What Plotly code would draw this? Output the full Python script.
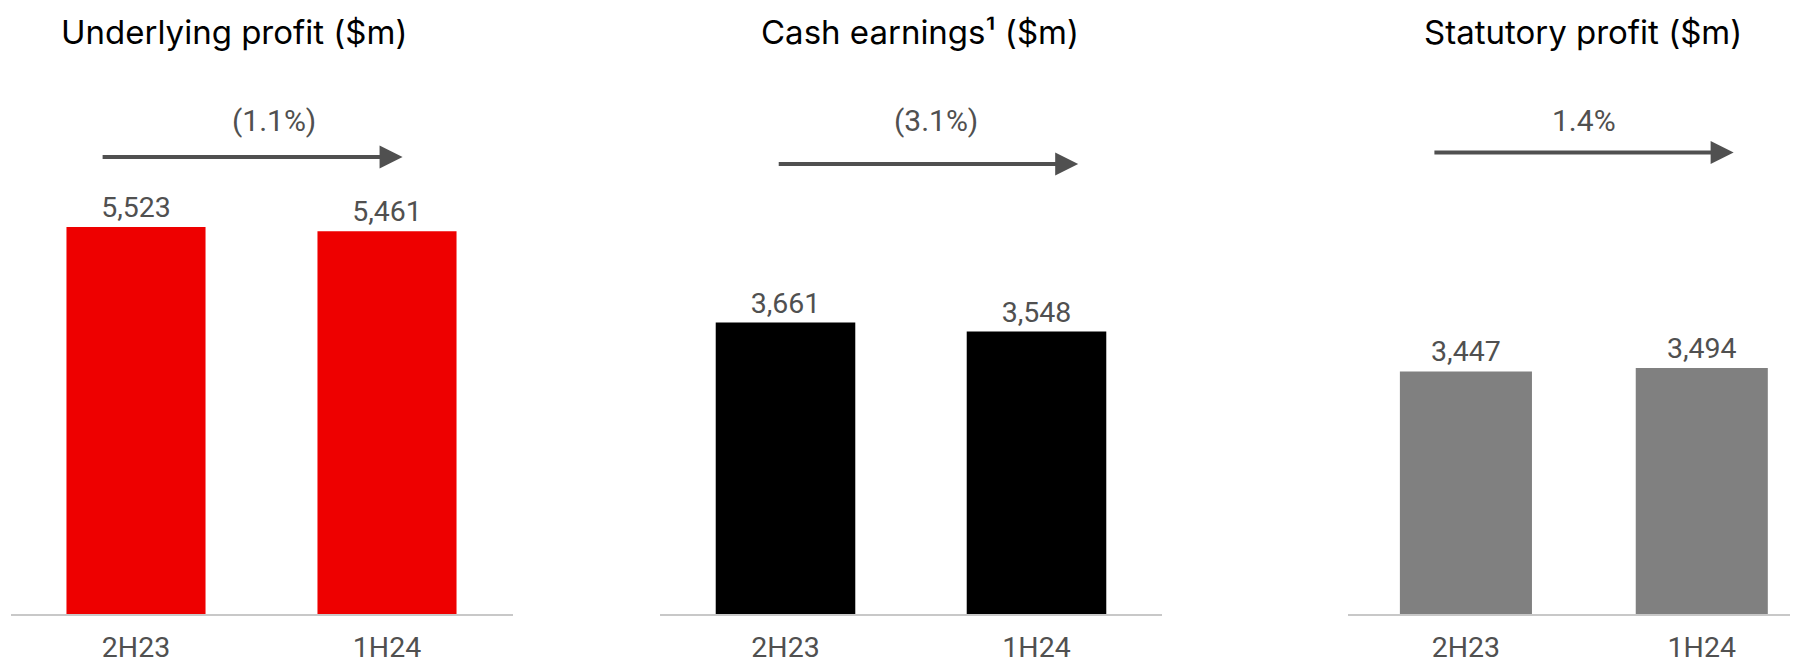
import plotly.graph_objects as go

# page is rendered with an 8px body margin; figure sized to fit the window
OFF = 8
W, H = 1798 - OFF, 657 - OFF

categories = ["2H23", "1H24"]
underlying_profit = [5523, 5461]
cash_earnings = [3661, 3548]
statutory_profit = [3447, 3494]
titles = ["Underlying profit ($m)", "Cash earnings\u00b9 ($m)", "Statutory profit ($m)"]
changes = ["(1.1%)", "(3.1%)", "1.4%"]
colors = ["#EE0000", "#000000", "#808080"]

series = [underlying_profit, cash_earnings, statutory_profit]

# layout geometry (page pixels)
axis_y = 614 - OFF
panels = [
    dict(x0=10.5, x1=512.5, xr=[-0.5, 1.5], yr=8648, width=0.554,
         title_x=234, pct_x=274, arrow=(-0.139, 1.062), arrow_y=157),
    dict(x0=660, x1=1162, xr=[-0.5, 1.5], yr=7611, width=0.556,
         title_x=920, pct_x=936, arrow=(-0.033, 1.166), arrow_y=164),
    dict(x0=1348, x1=1798, xr=[-0.5, 1.408], yr=8611, width=0.56,
         title_x=1583, pct_x=1584, arrow=(-0.14, 1.135), arrow_y=152.5),
]

fig = go.Figure()
FONT = "Roboto"
GREY = "#505050"

for i, (p, vals, col) in enumerate(zip(panels, series, colors)):
    k = "" if i == 0 else str(i + 1)
    fig.add_trace(go.Bar(
        x=categories, y=vals, marker=dict(color=col, line=dict(width=0)),
        width=p["width"], text=[f"{v:,}" for v in vals], textposition="outside",
        textfont=dict(family=FONT, size=28.5, color=GREY), cliponaxis=False,
        xaxis="x" + k, yaxis="y" + k, showlegend=False, hoverinfo="skip",
    ))
    fig.update_layout(**{
        "xaxis" + k: dict(domain=[(p["x0"] - OFF) / W, min(1, (p["x1"] - OFF) / W)],
                          range=p["xr"], automargin=False,
                          showline=True, linecolor="#C8C8C8", linewidth=2,
                          showgrid=False, zeroline=False, ticks="",
                          ticklabelstandoff=7,
                          tickfont=dict(family=FONT, size=28.5, color=GREY),
                          anchor="y" + k, fixedrange=True),
        "yaxis" + k: dict(domain=[0, 1], range=[0, p["yr"]], visible=False,
                          automargin=False, anchor="x" + k, fixedrange=True),
    })
    # title
    fig.add_annotation(text=titles[i], x=(p["title_x"] - OFF) / W,
                       y=1 - (32 - OFF) / axis_y,
                       xref="paper", yref="paper", showarrow=False,
                       xanchor="center", yanchor="middle",
                       font=dict(family="Inter", size=33, color="#000000"))
    # percent label
    fig.add_annotation(text=changes[i], x=(p["pct_x"] - OFF) / W,
                       y=1 - (120 - OFF) / axis_y,
                       xref="paper", yref="paper", showarrow=False,
                       xanchor="center", yanchor="middle",
                       font=dict(family=FONT, size=30, color=GREY))
    # arrow
    a0, a1 = p["arrow"]
    yv = (axis_y - (p["arrow_y"] - OFF)) / axis_y * p["yr"]
    fig.add_annotation(x=a1, y=yv, ax=a0, ay=yv, xref="x" + k, yref="y" + k,
                       axref="x" + k, ayref="y" + k, text="", showarrow=True,
                       arrowhead=2, arrowsize=1.15, arrowwidth=4,
                       arrowcolor=GREY, standoff=0, startstandoff=0)

fig.update_layout(width=W, height=H, margin=dict(l=0, r=0, t=0, b=H - axis_y),
                  plot_bgcolor="white", paper_bgcolor="white", bargap=0.45)

fig.write_html("out.html")
